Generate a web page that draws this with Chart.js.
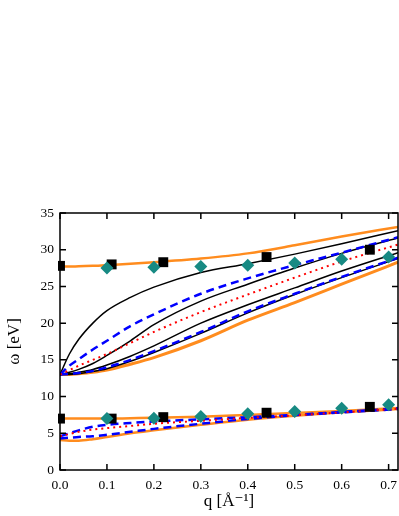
<!DOCTYPE html>
<html>
<head>
<meta charset="utf-8">
<script src="https://cdn.jsdelivr.net/npm/chart.js@4"></script>
<style>
  html, body { margin: 0; padding: 0; background: #fff; }
  canvas { display: block; }
</style>
</head>
<body>
<canvas id="chart" width="399" height="516"></canvas>
<script>
// momentum grid for the model curves
const qGrid = [0, 0.02, 0.04, 0.07, 0.1, 0.15, 0.2, 0.3, 0.4, 0.5, 0.6, 0.72];

// upper band
const orangeTopHi = [27.7, 27.7, 27.75, 27.8, 27.9, 28.1, 28.3, 28.8, 29.5, 30.6, 31.8, 33.1];
const black1 = [13, 15.8, 17.8, 20.0, 21.7, 23.5, 24.9, 26.9, 28.1, 29.4, 30.8, 32.6];
const blue1 = [13, 14.2, 15.1, 16.4, 17.6, 19.6, 21.2, 24.0, 26.1, 27.9, 29.6, 31.7];
const black2 = [13, 13.3, 13.7, 14.5, 15.6, 17.6, 19.8, 23.0, 25.3, 27.5, 29.5, 31.6];
const red1 = [13, 13.6, 14.2, 15.0, 15.8, 17.3, 18.8, 21.5, 23.9, 26.2, 28.4, 30.7];
const black3 = [13, 13.1, 13.3, 13.7, 14.3, 15.5, 16.9, 20.0, 22.5, 24.8, 27.1, 29.6];
const blue2 = [13, 13.1, 13.2, 13.5, 14.0, 15.0, 16.2, 18.8, 21.6, 24.0, 26.3, 28.9];
const black4 = [13, 13.0, 13.1, 13.4, 13.8, 14.8, 16.0, 18.6, 21.4, 23.9, 26.2, 28.8];
const orangeBotHi = [13, 13.0, 13.1, 13.3, 13.6, 14.4, 15.3, 17.6, 20.4, 22.8, 25.3, 28.3];

// lower band
const orangeTopLo = [7.0, 7.0, 7.0, 7.0, 7.0, 7.05, 7.1, 7.25, 7.5, 7.75, 8.05, 8.45];
const blueUpLo = [4.6, 5.0, 5.4, 5.9, 6.15, 6.4, 6.6, 6.9, 7.2, 7.5, 7.9, 8.4];
const redLo = [4.6, 4.9, 5.2, 5.5, 5.7, 6.0, 6.3, 6.7, 7.1, 7.45, 7.85, 8.35];
const blueDnLo = [4.3, 4.4, 4.5, 4.6, 4.8, 5.2, 5.6, 6.3, 6.95, 7.45, 7.85, 8.3];
const orangeBotLo = [4.1, 4.0, 4.0, 4.2, 4.5, 5.0, 5.4, 6.15, 6.85, 7.4, 7.85, 8.3];

// experimental points
const squareQ = [0, 0.11, 0.22, 0.44, 0.66];
const squareHi = [27.8, 28.0, 28.3, 29.0, 30.0];
const squareLo = [7.0, 7.0, 7.2, 7.8, 8.6];
const diamondQ = [0.1, 0.2, 0.3, 0.4, 0.5, 0.6, 0.7];
const diamondHi = [27.5, 27.6, 27.7, 27.9, 28.2, 28.7, 29.0];
const diamondLo = [7.0, 7.05, 7.3, 7.65, 7.95, 8.4, 8.9];

const xTicks = [0, 0.1, 0.2, 0.3, 0.4, 0.5, 0.6, 0.7];
const yTicks = [0, 5, 10, 15, 20, 25, 30, 35];

const ORANGE = "#ff8c1e";
const TEAL = "#178a83";
const serif = "'Liberation Serif', 'DejaVu Serif', serif";

function pts(xs, ys) {
  return xs.map((x, i) => ({ x: x, y: ys[i] }));
}

function curve(vals, color, width, dash, order) {
  return {
    data: pts(qGrid, vals),
    showLine: true,
    borderColor: color,
    borderWidth: width,
    borderDash: dash,
    pointRadius: 0,
    fill: false,
    cubicInterpolationMode: "monotone",
    order: order
  };
}

function markers(xs, ys, style, radius, color) {
  return {
    data: pts(xs, ys),
    showLine: false,
    pointStyle: style,
    pointRadius: radius,
    pointBackgroundColor: color,
    pointBorderColor: color,
    pointBorderWidth: 0,
    clip: { left: 2, top: 10, right: 10, bottom: 10 },
    order: 0
  };
}

const datasets = [
  curve(orangeTopHi, ORANGE, 2.5, [], 5),
  curve(orangeBotHi, ORANGE, 3, [], 5),
  curve(orangeTopLo, ORANGE, 2.5, [], 5),
  curve(orangeBotLo, ORANGE, 2.5, [], 5),
  curve(black1, "#000", 1.5, [], 4),
  curve(black2, "#000", 1.5, [], 4),
  curve(black3, "#000", 1.5, [], 4),
  curve(black4, "#000", 1.5, [], 4),
  curve(blue1, "#0000ff", 2.5, [8, 5], 3),
  curve(blue2, "#0000ff", 2.5, [8, 5], 3),
  curve(blueUpLo, "#0000ff", 2.5, [8, 5], 3),
  curve(blueDnLo, "#0000ff", 2.5, [8, 5], 3),
  curve(red1, "#ff0000", 2, [2, 4], 2),
  curve(redLo, "#ff0000", 2, [2, 4], 2),
  markers(diamondQ, diamondHi, "rectRot", 6.5, TEAL),
  markers(diamondQ, diamondLo, "rectRot", 6.5, TEAL),
  markers(squareQ, squareHi, "rect", 7, "#000"),
  markers(squareQ, squareLo, "rect", 7, "#000")
];

// inward ticks on all four sides plus the frame
const frame = {
  id: "frame",
  afterDraw(chart) {
    const ctx = chart.ctx;
    const a = chart.chartArea;
    const xs = chart.scales.x;
    const ys = chart.scales.y;
    ctx.save();
    ctx.strokeStyle = "#000";
    ctx.lineWidth = 1.5;
    ctx.beginPath();
    xTicks.forEach(v => {
      const px = xs.getPixelForValue(v);
      ctx.moveTo(px, a.bottom); ctx.lineTo(px, a.bottom - 6);
      ctx.moveTo(px, a.top); ctx.lineTo(px, a.top + 6);
    });
    yTicks.forEach(v => {
      const py = ys.getPixelForValue(v);
      ctx.moveTo(a.left, py); ctx.lineTo(a.left + 6, py);
      ctx.moveTo(a.right, py); ctx.lineTo(a.right - 6, py);
    });
    ctx.stroke();
    ctx.strokeRect(a.left, a.top, a.right - a.left, a.bottom - a.top);
    ctx.restore();
  }
};

new Chart(document.getElementById("chart"), {
  type: "scatter",
  data: { datasets: datasets },
  options: {
    responsive: false,
    animation: false,
    layout: { autoPadding: false, padding: { top: 213, right: 1, left: 0, bottom: 0 } },
    plugins: { legend: { display: false }, tooltip: { enabled: false } },
    scales: {
      x: {
        type: "linear",
        min: 0,
        max: 0.72,
        afterBuildTicks: s => { s.ticks = xTicks.map(v => ({ value: v })); },
        afterFit: s => { s.height = 46; s.paddingLeft = 0; s.paddingRight = 0; },
        grid: { display: false, drawTicks: false },
        border: { display: false },
        ticks: {
          padding: 7,
          color: "#000",
          font: { family: serif, size: 13.5 },
          callback: v => v.toFixed(1)
        },
        title: {
          display: true,
          text: "q [Å\u207B\u00B9]",
          color: "#000",
          font: { family: serif, size: 17 },
          padding: { top: 0, bottom: 4 }
        }
      },
      y: {
        type: "linear",
        min: 0,
        max: 35,
        afterBuildTicks: s => { s.ticks = yTicks.map(v => ({ value: v })); },
        afterFit: s => { s.width = 60; s.paddingTop = 0; s.paddingBottom = 0; },
        grid: { display: false, drawTicks: false },
        border: { display: false },
        ticks: {
          padding: 6,
          color: "#000",
          font: { family: serif, size: 13.5 }
        },
        title: {
          display: true,
          text: "ω [eV]",
          color: "#000",
          font: { family: serif, size: 17 },
          padding: { top: 4, bottom: 0 }
        }
      }
    }
  },
  plugins: [frame]
});
</script>
</body>
</html>
